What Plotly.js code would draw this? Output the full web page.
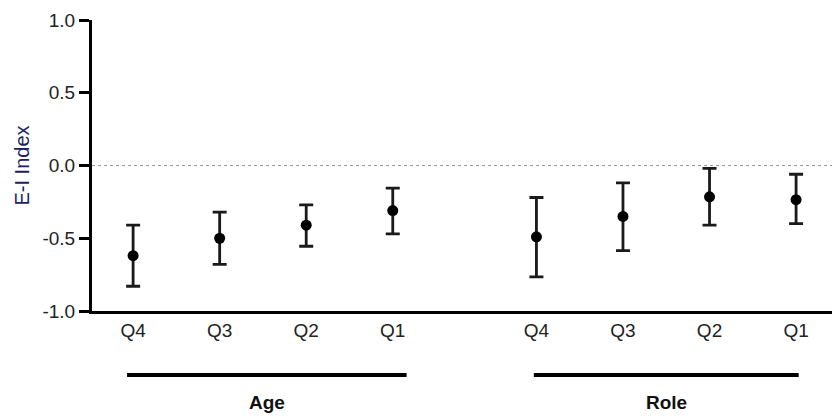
<!DOCTYPE html>
<html>
<head>
<meta charset="utf-8">
<script src="https://cdn.plot.ly/plotly-3.0.1.min.js"></script>
<style>html,body{margin:0;padding:0;background:#fff;}#chart{width:832px;height:416px;}</style>
</head>
<body>
<div id="chart"></div>
<script>
const groups = ["Age", "Role"];
const tickLabels = ["Q4", "Q3", "Q2", "Q1"];
const ageMean = [-0.62, -0.50, -0.41, -0.31];
const ageUpper = [-0.41, -0.32, -0.27, -0.155];
const ageLower = [-0.83, -0.68, -0.555, -0.47];
const roleMean = [-0.49, -0.35, -0.215, -0.235];
const roleUpper = [-0.22, -0.12, -0.02, -0.06];
const roleLower = [-0.765, -0.585, -0.41, -0.40];

const groupGap = 4.66;
const seriesMeans = [ageMean, roleMean];
const seriesUp = [ageUpper, roleUpper];
const seriesLo = [ageLower, roleLower];
const FONT = 'Liberation Sans, Arial, sans-serif';

const xs = [], ys = [], eplus = [], eminus = [], tv = [], tt = [];
const shapes = [], annotations = [];
groups.forEach((g, gi) => {
  const base = gi * groupGap;
  tickLabels.forEach((t, i) => {
    const x = base + i;
    xs.push(x);
    ys.push(seriesMeans[gi][i]);
    eplus.push(seriesUp[gi][i] - seriesMeans[gi][i]);
    eminus.push(seriesMeans[gi][i] - seriesLo[gi][i]);
    tv.push(x); tt.push(t);
  });
  const x0 = base - (gi === 0 ? 0.07 : 0.03);
  const x1 = base + tickLabels.length - 1 + (gi === 0 ? 0.16 : 0.03);
  shapes.push({type: 'line', xref: 'x', yref: 'paper', x0: x0, x1: x1, y0: -0.22, y1: -0.22,
    line: {color: '#000', width: 4}});
  annotations.push({xref: 'x', yref: 'paper', x: (x0 + x1) / 2, y: -0.315, yanchor: 'middle', showarrow: false,
    text: '<b>' + g + '</b>', font: {family: FONT, size: 19, color: '#111'}});
});

shapes.push({type: 'line', xref: 'paper', yref: 'y', x0: 0, x1: 1, y0: 0, y1: 0,
  line: {color: '#999', width: 1.2, dash: 'dot'}, layer: 'below'});

const trace = {
  x: xs, y: ys, type: 'scatter', mode: 'markers',
  marker: {color: '#000', size: 11},
  error_y: {type: 'data', symmetric: false, array: eplus, arrayminus: eminus,
    color: '#1a1a1a', thickness: 2.8, width: 7},
  cliponaxis: false, hoverinfo: 'none'
};

const layout = {
  width: 832, height: 416,
  margin: {l: 92, r: 0, t: 20, b: 105},
  paper_bgcolor: '#fff', plot_bgcolor: '#fff',
  showlegend: false,
  font: {family: FONT, size: 19, color: '#222'},
  xaxis: {
    range: [-0.475, 8.075], tickvals: tv, ticktext: tt, showgrid: false, zeroline: false,
    showline: true, linecolor: '#000', linewidth: 3, ticks: '',
    tickfont: {family: FONT, size: 19, color: '#222'}, fixedrange: true
  },
  yaxis: {
    range: [-1, 1], tickvals: [-1, -0.5, 0, 0.5, 1], ticktext: ['-1.0', '-0.5', '0.0', '0.5', '1.0'],
    showgrid: false, zeroline: false, showline: true, linecolor: '#000', linewidth: 3,
    ticks: 'outside', ticklen: 10, tickwidth: 3, tickcolor: '#000',
    tickfont: {family: FONT, size: 19, color: '#222'},
    title: {text: 'E-I Index', font: {family: FONT, size: 20, color: '#1c2260'}, standoff: 8},
    fixedrange: true
  },
  shapes: shapes,
  annotations: annotations
};

Plotly.newPlot('chart', [trace], layout, {displayModeBar: false, staticPlot: true});
</script>
</body>
</html>
